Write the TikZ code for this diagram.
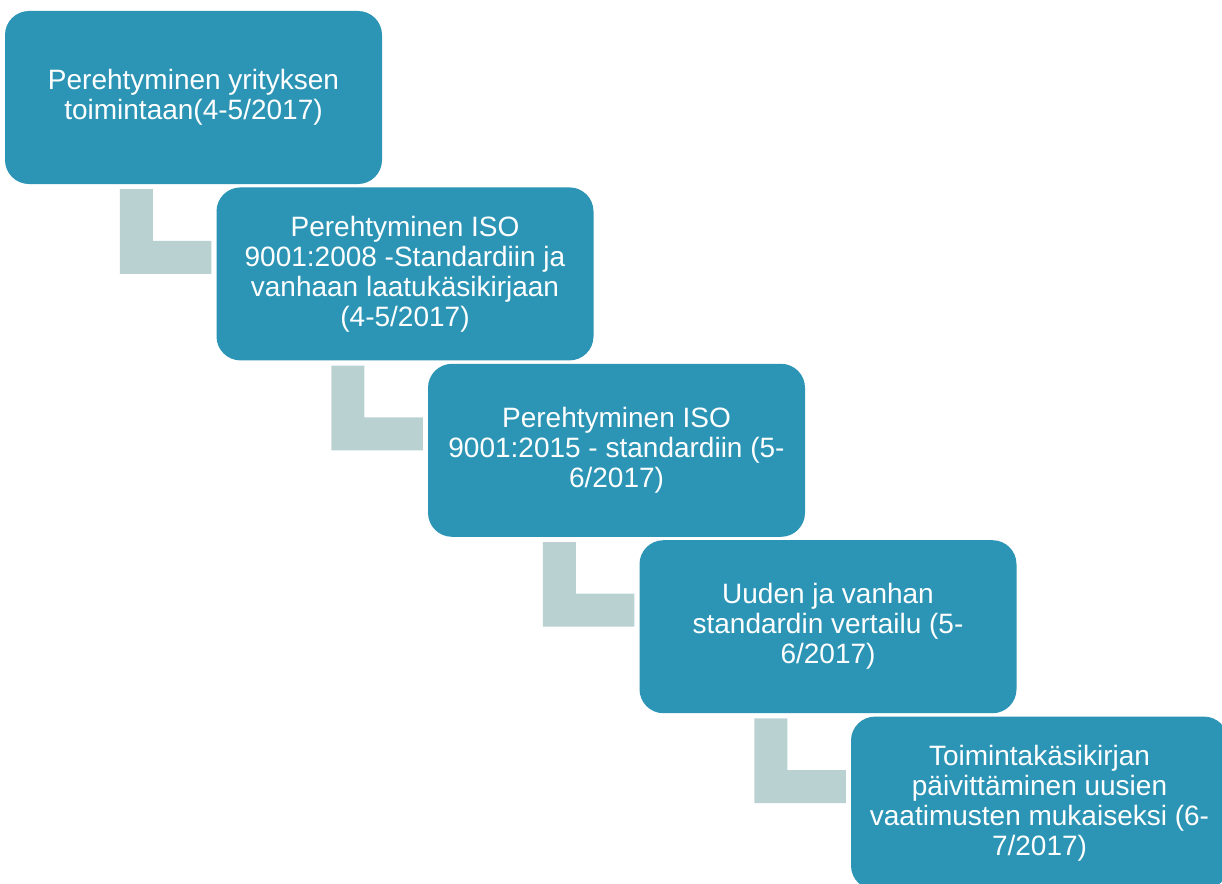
\documentclass[tikz,border=0pt]{standalone}
\usepackage{fontspec}
\setmainfont{Liberation Sans}
\usetikzlibrary{positioning}

\definecolor{stepblue}{RGB}{44,149,181}
\definecolor{steplink}{RGB}{186,209,210}

\begin{document}
\begin{tikzpicture}[
  x=1pt, y=1pt,
  node distance=3pt,
  every node/.style={align=center},
  stepbox/.style={fill=stepblue, text=white, rounded corners=24pt,
                  minimum width=377pt, minimum height=173pt, inner sep=6pt,
                  font=\fontsize{28pt}{30pt}\selectfont},
  steplink/.style={fill=steplink},
]
\useasboundingbox (0,0) rectangle (1222,-883);
\fill[white] (0,0) rectangle (1222,-883);
\clip (0,0) rectangle (1222,-883);

% --- Steps, each one down and to the right of the previous ---
\node[stepbox] (s1) at (193.5,-97.5) {%
  Perehtyminen yrityksen\\
  toimintaan(4-5/2017)%
};
\node[stepbox, below=of s1, xshift=211.5pt] (s2) {%
  Perehtyminen ISO\\
  9001:2008 -Standardiin ja\\
  vanhaan laatukäsikirjaan\\
  (4-5/2017)%
};
\node[stepbox, below=of s2, xshift=211.5pt] (s3) {%
  Perehtyminen ISO\\
  9001:2015 - standardiin (5-\\
  6/2017)%
};
\node[stepbox, below=of s3, xshift=211.5pt] (s4) {%
  Uuden ja vanhan\\
  standardin vertailu (5-\\
  6/2017)%
};
\node[stepbox, below=of s4, xshift=211.5pt] (s5) {%
  Toimintakäsikirjan\\
  päivittäminen uusien\\
  vaatimusten mukaiseksi (6-\\
  7/2017)%
};

% --- L-shaped links: down from one step, then right into the next ---
\fill[steplink] ([xshift=115pt,yshift=-5pt]s1.south west) |- ([xshift=-5pt]s2.west)
  -- ++(0,33) -| ([xshift=148pt,yshift=-5pt]s1.south west) -- cycle;
\fill[steplink] ([xshift=115pt,yshift=-5pt]s2.south west) |- ([xshift=-5pt]s3.west)
  -- ++(0,33) -| ([xshift=148pt,yshift=-5pt]s2.south west) -- cycle;
\fill[steplink] ([xshift=115pt,yshift=-5pt]s3.south west) |- ([xshift=-5pt]s4.west)
  -- ++(0,33) -| ([xshift=148pt,yshift=-5pt]s3.south west) -- cycle;
\fill[steplink] ([xshift=115pt,yshift=-5pt]s4.south west) |- ([xshift=-5pt]s5.west)
  -- ++(0,33) -| ([xshift=148pt,yshift=-5pt]s4.south west) -- cycle;

\end{tikzpicture}
\end{document}
